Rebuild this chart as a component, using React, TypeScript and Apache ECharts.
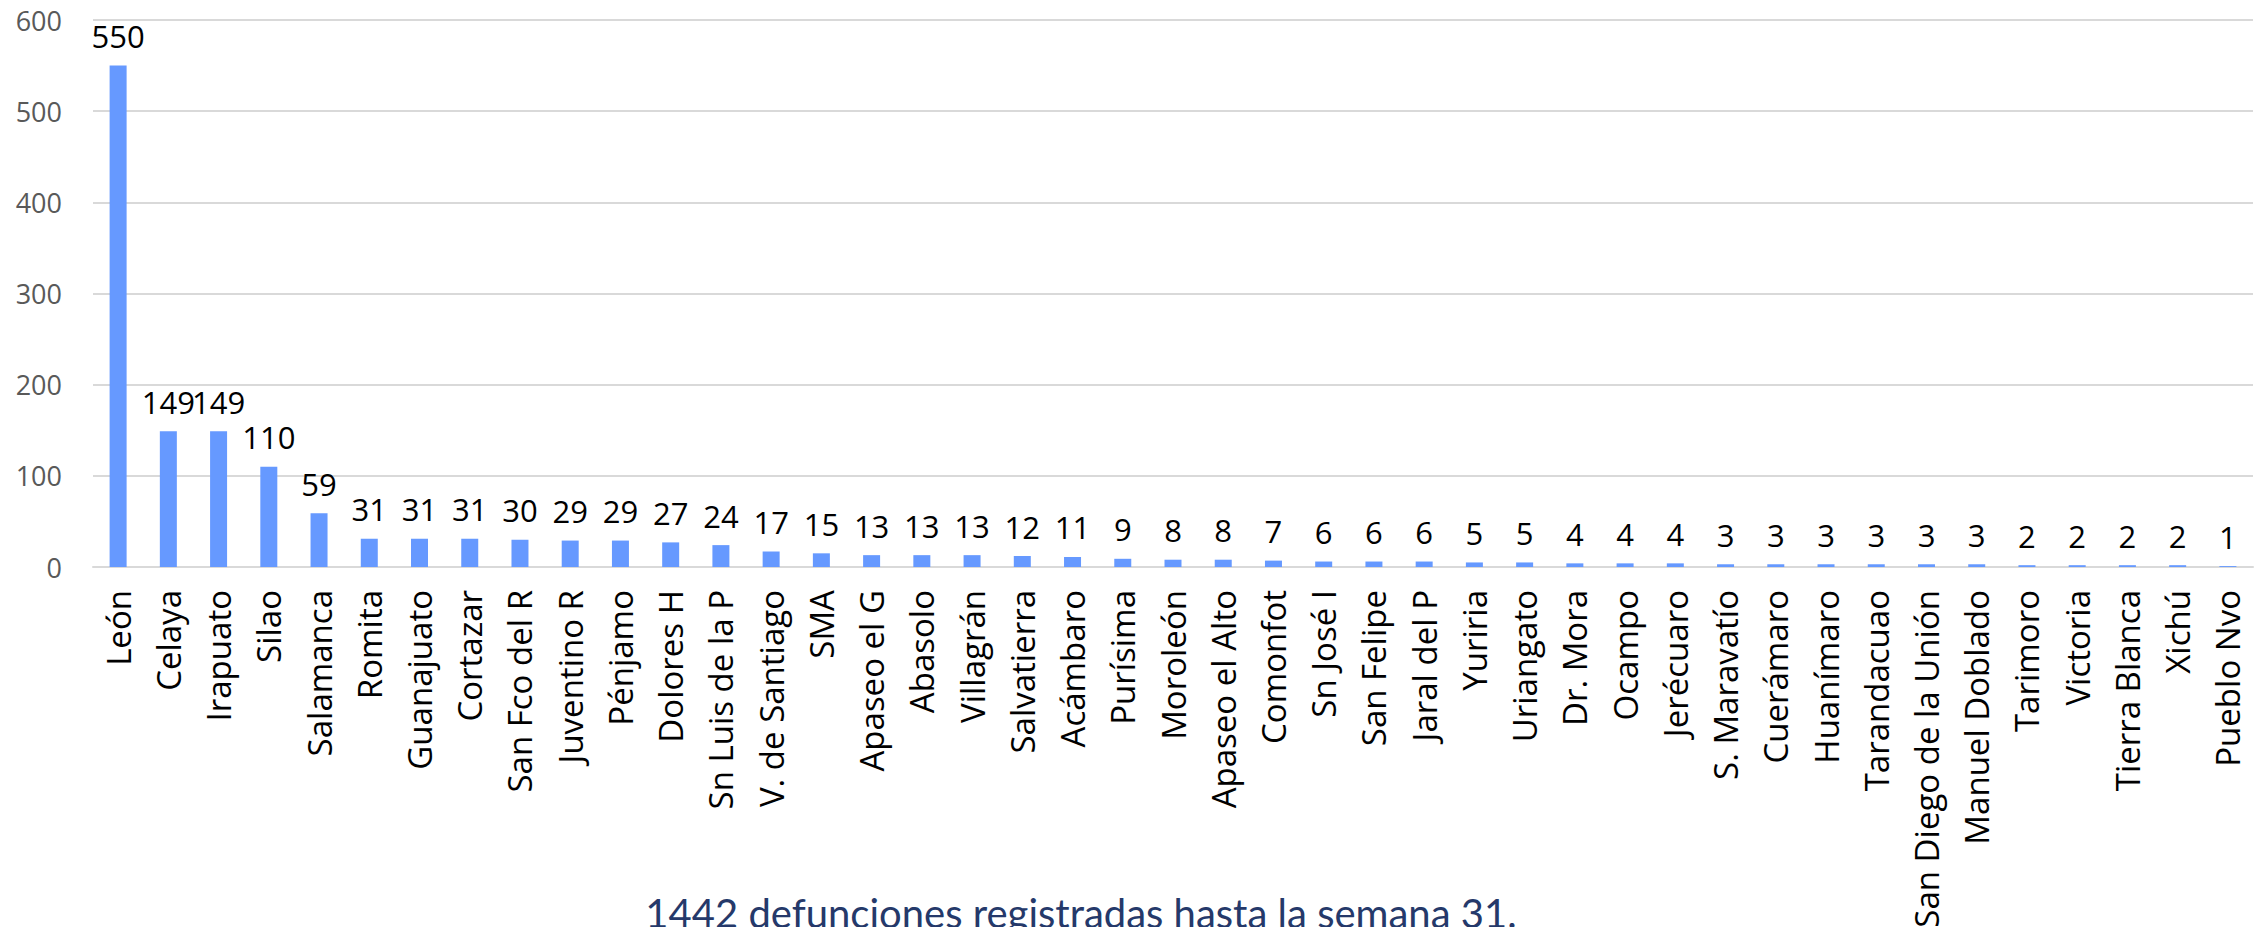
import React, { useEffect, useRef } from "react";
import * as echarts from "echarts";

const categories: string[] = [
  "León", "Celaya", "Irapuato", "Silao", "Salamanca", "Romita", "Guanajuato", "Cortazar",
  "San Fco del R", "Juventino R", "Pénjamo", "Dolores H", "Sn Luis de la P", "V. de Santiago",
  "SMA", "Apaseo el G", "Abasolo", "Villagrán", "Salvatierra", "Acámbaro", "Purísima",
  "Moroleón", "Apaseo el Alto", "Comonfot", "Sn José I", "San Felipe", "Jaral del P",
  "Yuriria", "Uriangato", "Dr. Mora", "Ocampo", "Jerécuaro", "S. Maravatío", "Cuerámaro",
  "Huanímaro", "Tarandacuao", "San Diego de la Unión", "Manuel Doblado", "Tarimoro",
  "Victoria", "Tierra Blanca", "Xichú", "Pueblo Nvo",
];

const deaths: number[] = [
  550, 149, 149, 110, 59, 31, 31, 31, 30, 29, 29, 27, 24, 17, 15, 13, 13, 13, 12, 11, 9,
  8, 8, 7, 6, 6, 6, 5, 5, 4, 4, 4, 3, 3, 3, 3, 3, 3, 2, 2, 2, 2, 1,
];

const yTicks = { min: 0, max: 600, interval: 100 };

const footnote = "1442 defunciones registradas hasta la semana 31.";

export default function App() {
  const ref = useRef<HTMLDivElement>(null);

  useEffect(() => {
    if (!ref.current) return;
    const chart = echarts.init(ref.current, null, { renderer: "svg" });
    chart.setOption({
      animation: false,
      backgroundColor: "#ffffff",
      grid: {
        left: 93,
        right: 9,
        top: 20,
        bottom: 360,
        containLabel: false,
        outerBoundsMode: "none",
      },
      xAxis: {
        type: "category",
        data: categories,
        axisTick: { show: false },
        axisLine: { show: true, lineStyle: { color: "#d9d9d9", width: 2 } },
        axisLabel: {
          interval: 0,
          rotate: 90,
          margin: 23,
          fontFamily: "Open Sans",
          fontSize: 33,
          color: "#000000",
        },
      },
      yAxis: {
        type: "value",
        min: yTicks.min,
        max: yTicks.max,
        interval: yTicks.interval,
        axisLine: { show: false },
        axisTick: { show: false },
        splitLine: { lineStyle: { color: "#d9d9d9", width: 2 } },
        axisLabel: {
          margin: 31,
          fontFamily: "Open Sans",
          fontSize: 27,
          color: "#595959",
        },
      },
      series: [
        {
          type: "bar",
          data: deaths,
          barWidth: 17,
          itemStyle: { color: "#6699ff" },
          label: {
            show: true,
            position: "top",
            distance: 14,
            fontFamily: "Open Sans",
            fontSize: 31,
            color: "#000000",
          },
        },
      ],
      graphic: [
        {
          type: "text",
          x: 1081,
          y: 913,
          style: {
            text: footnote,
            fontFamily: "Lato",
            fontSize: 40,
            fill: "#25396a",
            align: "center",
            verticalAlign: "middle",
          },
        },
      ],
    });
    return () => chart.dispose();
  }, []);

  return (
    <div
      ref={ref}
      style={{ position: "fixed", left: 0, top: 0, width: 2262, height: 927 }}
    />
  );
}
